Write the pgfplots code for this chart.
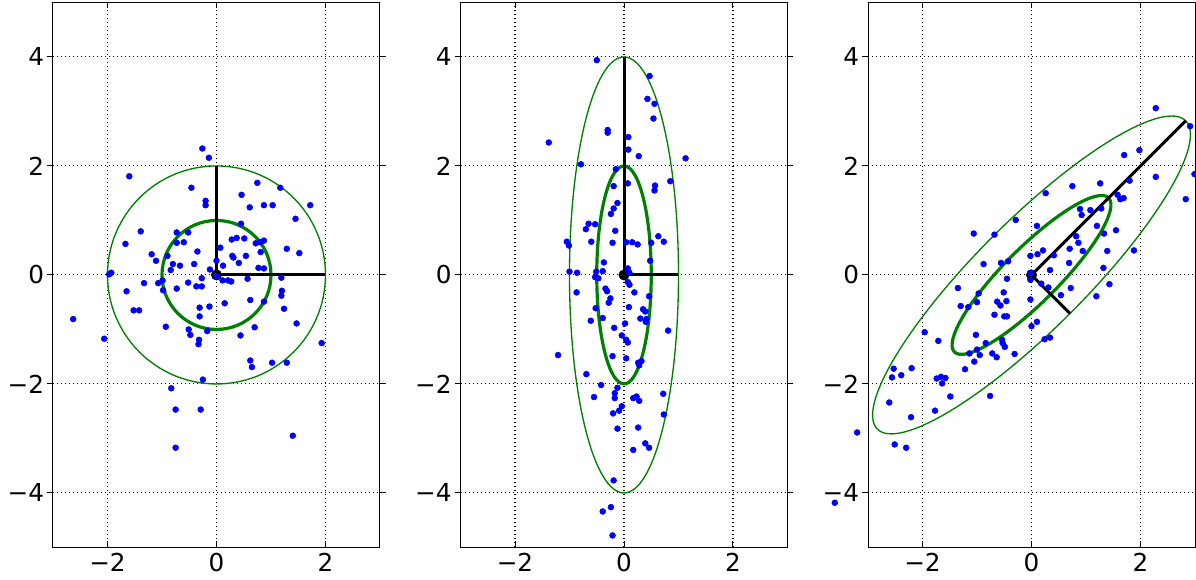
\documentclass[border=0pt]{standalone}
\usepackage{fontspec}
\setmainfont{DejaVu Sans}
\usepackage{pgfplots}
\pgfplotsset{compat=1.18}
\definecolor{mplgreen}{RGB}{0,128,0}
\definecolor{mplblue}{RGB}{0,0,255}

\tikzset{
  thick ell/.style={mplgreen, line width=2.4pt},
  thin ell/.style={mplgreen, line width=1pt},
}
\pgfplotsset{
  panel/.style={
    scale only axis, width=245.25pt, height=408.75pt,
    xmin=-3, xmax=3, ymin=-5, ymax=5,
    clip=false,
    xtick={-2,0,2}, xticklabels={−2,0,2},
    ytick={-4,-2,0,2,4}, yticklabels={−4,−2,0,2,4},
    xtick align=inside, ytick align=outside,
    major tick length=4.5pt,
    tick style={black, line width=0.75pt},
    axis line style={black, line width=0.75pt},
    grid=major,
    major grid style={black, line width=0.8pt, dash pattern=on 0.8pt off 2.2pt},
    ticklabel style={font=\fontsize{18.5}{22}\selectfont},
    xticklabel style={inner sep=2pt, yshift=-2pt},
    yticklabel style={inner sep=2pt},
  },
  pts/.style={only marks, mark=*, mark size=2.2pt, mark options={draw=mplblue, fill=mplblue}},
  org/.style={only marks, mark=*, mark size=3.9pt, mark options={draw=black, fill=black}},
  arm/.style={black, line width=2.25pt, mark=none},
}

\begin{document}
\begin{tikzpicture}
\useasboundingbox (-39.75pt,-24.4pt) rectangle (857.25pt,410.6pt);

% panel 1: isotropic
\begin{axis}[panel, at={(0pt,0pt)}]
\draw[thin ell] (axis cs:0,0) ellipse [x radius=81.75pt, y radius=81.75pt];
\draw[thick ell] (axis cs:0,0) ellipse [x radius=40.875pt, y radius=40.875pt];
\addplot[arm] coordinates {(2,0) (0,0) (0,2)};
\addplot[org] coordinates {(0,0)};
\addplot[pts] coordinates {
(-0.26,2.32)(-0.14,2.15)(-1.60,1.81)(-0.46,1.60)(0.75,1.69)(1.17,1.60)(0.46,1.47)(-0.20,1.36)
(-0.20,1.28)(0.61,1.24)(0.87,1.28)(1.03,1.28)(1.72,1.28)(1.45,1.03)(0.45,0.94)(-1.39,0.80)
(-0.73,0.78)(-0.52,0.78)(-1.67,0.57)(-0.73,0.59)(-0.60,0.60)(0.28,0.65)(0.37,0.68)(0.51,0.67)
(0.72,0.58)(0.80,0.60)(0.87,0.63)(0.07,0.50)(1.29,0.48)(1.52,0.40)(-1.19,0.38)(-0.90,0.35)
(-0.35,0.43)(0.29,0.35)(0.31,0.32)(0.54,0.35)(0.81,0.42)(-1.11,0.26)(-0.80,0.20)(-0.67,0.17)
(-0.41,0.20)(0.00,0.26)(0.12,0.17)(0.41,0.22)(0.77,0.13)(0.87,0.12)(-0.84,0.09)(-1.97,0.01)
(-1.93,0.04)(-0.12,0.10)(0.00,-0.02)(-0.27,-0.06)(0.11,-0.10)(0.21,-0.10)(0.27,-0.12)(0.57,-0.07)
(1.19,-0.05)(-1.33,-0.15)(-1.07,-0.15)(-0.99,-0.10)(-0.98,-0.28)(-0.52,-0.14)(-0.37,-0.21)(-0.27,-0.21)
(-0.73,-0.25)(-1.65,-0.30)(1.20,-0.29)(1.19,-0.38)(0.62,-0.46)(0.87,-0.49)(0.15,-0.52)(-0.31,-0.60)
(-0.13,-0.58)(1.24,-0.62)(-1.52,-0.65)(-1.42,-0.65)(-0.31,-0.76)(-2.63,-0.81)(1.47,-0.89)(-0.93,-0.95)
(-0.51,-1.00)(-0.17,-1.03)(0.70,-0.96)(-0.48,-1.10)(0.44,-1.11)(-2.06,-1.17)(-0.32,-1.19)(-0.33,-1.27)
(1.93,-1.25)(0.62,-1.57)(0.65,-1.69)(1.02,-1.61)(1.29,-1.61)(-0.25,-1.92)(-0.83,-2.08)(-0.75,-2.47)
(-0.29,-2.47)(1.40,-2.95)(-0.75,-3.17)
};
\end{axis}

% panel 2: axis-aligned
\begin{axis}[panel, at={(305.625pt,0pt)}]
\draw[thin ell] (axis cs:0,0) ellipse [x radius=40.875pt, y radius=163.5pt];
\draw[thick ell] (axis cs:0,0) ellipse [x radius=20.4375pt, y radius=81.75pt];
\addplot[arm] coordinates {(1,0) (0,0) (0,4)};
\addplot[org] coordinates {(0,0)};
\addplot[pts] coordinates {
(-0.50,3.94)(0.47,3.65)(0.43,3.23)(0.56,3.14)(0.54,2.87)(-0.30,2.66)(-0.30,2.61)(-1.38,2.43)
(0.08,2.53)(0.08,2.30)(0.27,2.18)(1.13,2.14)(-0.79,2.03)(-0.15,1.94)(0.07,1.68)(-0.19,1.63)
(0.57,1.64)(0.56,1.55)(0.85,1.72)(-0.12,1.32)(-0.19,1.22)(-0.24,1.12)(-0.65,0.94)(-0.53,0.93)
(-0.70,0.84)(-0.16,0.81)(-1.05,0.61)(-1.01,0.54)(-0.60,0.61)(-0.21,0.59)(0.04,0.60)(0.15,0.60)
(0.25,0.56)(0.50,0.59)(0.63,0.71)(0.73,0.61)(0.48,0.26)(-0.37,0.23)(-1.00,0.06)(-0.86,0.04)
(-0.51,0.06)(-0.39,0.07)(-0.53,-0.04)(-0.47,-0.06)(0.07,0.12)(0.10,0.04)(0.07,-0.13)(0.10,-0.18)
(0.19,-0.32)(-0.34,-0.25)(-0.31,-0.30)(-0.87,-0.32)(-0.25,-0.43)(-0.28,-0.51)(0.46,-0.39)(-0.52,-0.61)
(0.09,-0.59)(0.35,-0.63)(0.39,-0.67)(-0.61,-0.84)(-0.39,-0.79)(0.30,-0.80)(0.41,-0.81)(0.40,-0.86)
(0.02,-0.89)(-0.18,-0.97)(0.81,-1.02)(-0.04,-1.11)(0.04,-1.19)(0.07,-1.24)(-1.21,-1.47)(-0.21,-1.49)
(0.04,-1.53)(0.26,-1.61)(0.32,-1.58)(0.28,-1.66)(-0.69,-1.82)(-0.42,-2.02)(-0.12,-2.07)(-0.17,-2.17)
(-0.17,-2.26)(-0.55,-2.24)(0.17,-2.26)(0.23,-2.23)(0.28,-2.31)(0.72,-2.18)(-0.04,-2.41)(-0.09,-2.49)
(-0.20,-2.54)(0.73,-2.56)(-0.12,-2.82)(0.26,-2.80)(0.39,-3.09)(0.46,-3.17)(0.17,-3.21)(-0.19,-3.77)
(-0.24,-4.26)(-0.39,-4.34)(-0.21,-4.78)
};
\end{axis}

% panel 3: rotated by 45 degrees
\begin{axis}[panel, at={(611.25pt,0pt)}]
\draw[thin ell, rotate around={45:(axis cs:0,0)}] (axis cs:0,0) ellipse [x radius=163.5pt, y radius=40.875pt];
\draw[thick ell, rotate around={45:(axis cs:0,0)}] (axis cs:0,0) ellipse [x radius=81.75pt, y radius=20.4375pt];
\addplot[arm] coordinates {(2.83,2.83) (0,0) (0.707,-0.707)};
\addplot[org] coordinates {(0,0)};
\addplot[pts] coordinates {
(2.28,3.06)(2.91,2.73)(1.70,2.20)(1.98,2.29)(2.28,1.80)(2.99,1.85)(1.80,1.73)(0.75,1.63)
(1.26,1.68)(0.26,1.50)(1.58,1.47)(1.63,1.39)(1.69,1.41)(2.83,1.39)(0.89,1.21)(0.92,1.10)
(1.08,1.19)(1.28,1.22)(-0.29,1.01)(0.10,0.90)(1.20,0.90)(1.55,0.82)(1.33,0.76)(0.82,0.71)
(-1.06,0.76)(-0.68,0.74)(0.70,0.48)(0.86,0.59)(0.94,0.44)(1.39,0.44)(1.88,0.45)(-0.02,0.35)
(0.11,0.38)(0.21,0.45)(0.41,0.36)(0.69,0.22)(-0.88,0.20)(-0.56,0.22)(-0.43,0.25)(0.34,0.09)
(1.32,0.13)(-0.02,0.04)(-0.02,-0.09)(-0.45,-0.07)(0.18,-0.16)(0.31,-0.23)(0.72,-0.24)(1.43,-0.17)
(-1.35,-0.24)(-0.97,-0.34)(-0.51,-0.32)(0.54,-0.37)(1.19,-0.39)(-1.00,-0.50)(-0.63,-0.49)(-0.57,-0.56)
(-0.46,-0.48)(-0.02,-0.45)(-1.30,-0.57)(-1.16,-0.59)(-0.68,-0.73)(-0.50,-0.76)(-0.45,-0.76)(0.10,-0.86)
(0.00,-0.94)(-1.96,-1.05)(-1.02,-1.10)(0.24,-1.18)(0.34,-1.15)(-1.71,-1.21)(-0.84,-1.25)(-0.54,-1.19)
(-0.53,-1.25)(-0.49,-1.32)(-1.14,-1.44)(-1.00,-1.37)(-0.95,-1.47)(-0.72,-1.44)(-0.64,-1.51)(-0.31,-1.45)
(-1.05,-1.59)(-2.53,-1.72)(-2.20,-1.71)(-1.22,-1.73)(-2.56,-1.88)(-2.39,-1.84)(-1.74,-1.90)(-1.66,-1.87)
(-1.58,-1.89)(-1.64,-1.99)(-2.61,-2.34)(-2.21,-2.61)(-1.49,-2.23)(-1.77,-2.49)(-0.76,-2.22)(-2.51,-3.11)
(-2.30,-3.17)(-3.20,-2.89)(-3.61,-4.18)
};
\end{axis}
\end{tikzpicture}
\end{document}
